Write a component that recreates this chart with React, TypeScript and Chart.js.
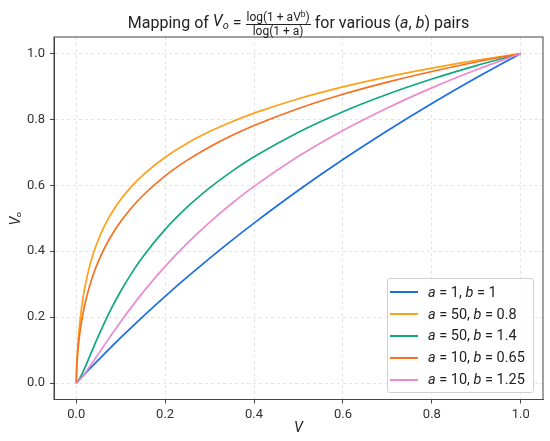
import React, { useEffect, useRef } from "react";
import { Chart, registerables } from "chart.js";

Chart.register(...registerables);

const V = [0, 0.001, 0.003, 0.006, 0.01, 0.015, 0.02, 0.03, 0.04, 0.05, 0.065, 0.08, 0.1, 0.125, 0.15, 0.2, 0.25, 0.3, 0.35, 0.4, 0.5, 0.6, 0.7, 0.8, 0.9, 1.0];

const curveA1B1 = [0, 0.0014, 0.0043, 0.0086, 0.0144, 0.0215, 0.0286, 0.0426, 0.0566, 0.0704, 0.0909, 0.111, 0.1375, 0.1699, 0.2016, 0.263, 0.3219, 0.3785, 0.433, 0.4854, 0.585, 0.6781, 0.7655, 0.848, 0.926, 1.0];
const curveA50B08 = [0, 0.0462, 0.0996, 0.1543, 0.2069, 0.2561, 0.2948, 0.3542, 0.3993, 0.4359, 0.4805, 0.5168, 0.5567, 0.5974, 0.6312, 0.6853, 0.7279, 0.763, 0.7929, 0.8189, 0.8626, 0.8986, 0.9291, 0.9556, 0.979, 1.0];
const curveA50B14 = [0, 0.0008, 0.0037, 0.0097, 0.0194, 0.0333, 0.0483, 0.0799, 0.1118, 0.143, 0.1874, 0.2286, 0.2786, 0.3342, 0.3832, 0.4662, 0.5345, 0.5923, 0.6424, 0.6864, 0.7612, 0.8233, 0.8762, 0.9224, 0.9633, 1.0];
const curveA10B065 = [0, 0.0444, 0.086, 0.1281, 0.1694, 0.2094, 0.242, 0.294, 0.3352, 0.3697, 0.413, 0.4492, 0.4901, 0.5328, 0.569, 0.6285, 0.6763, 0.7164, 0.751, 0.7814, 0.8332, 0.8762, 0.9131, 0.9454, 0.9741, 1.0];
const curveA10B125 = [0, 0.0007, 0.0029, 0.0069, 0.013, 0.0213, 0.0302, 0.0491, 0.0686, 0.0885, 0.1184, 0.1479, 0.1861, 0.2318, 0.275, 0.3541, 0.4246, 0.4877, 0.5447, 0.5966, 0.6879, 0.7663, 0.8348, 0.8957, 0.9504, 1.0];

const seriesLabels = ["a = 1, b = 1", "a = 50, b = 0.8", "a = 50, b = 1.4", "a = 10, b = 0.65", "a = 10, b = 1.25"];
const seriesValues = [curveA1B1, curveA50B08, curveA50B14, curveA10B065, curveA10B125];
const seriesColors = ["#1b6de0", "#ffa01a", "#10a880", "#f7701f", "#ec8ad0"];

const xTicks = [0, 0.2, 0.4, 0.6, 0.8, 1.0];
const yTicks = [0, 0.2, 0.4, 0.6, 0.8, 1.0];

const FONT = "Roboto, 'Noto Sans', sans-serif";

const framePlugin = {
  id: "frame",
  afterDatasetsDraw(chart: any) {
    const { ctx, chartArea } = chart;
    ctx.save();
    ctx.strokeStyle = "#444";
    ctx.lineWidth = 1;
    ctx.strokeRect(chartArea.left, chartArea.top, chartArea.right - chartArea.left, chartArea.bottom - chartArea.top);
    ctx.restore();
  },
};

function MathLabel({ text }: { text: string }) {
  const parts = text.split(/([ab])/);
  return (
    <>
      {parts.map((p, i) =>
        p === "a" || p === "b" ? <i key={i}>{p}</i> : <span key={i} style={{ whiteSpace: "pre" }}>{p}</span>
      )}
    </>
  );
}

export default function App() {
  const canvasRef = useRef<HTMLCanvasElement | null>(null);

  useEffect(() => {
    if (!canvasRef.current) return;
    const datasets = seriesValues.map((vals, i) => ({
      label: seriesLabels[i],
      data: V.map((x, j) => ({ x, y: vals[j] })),
      borderColor: seriesColors[i],
      backgroundColor: seriesColors[i],
      borderWidth: 1.7,
      pointRadius: 0,
      fill: false,
      cubicInterpolationMode: "monotone" as const,
      order: seriesValues.length - 1 - i,
    }));
    const gridCommon = {
      color: "#dcdcdc",
      lineWidth: 0.8,
      tickLength: 4,
      tickColor: "#444",
      tickWidth: 1,
      tickBorderDash: [],
    };
    const chart = new Chart(canvasRef.current, {
      type: "line",
      data: { datasets },
      plugins: [framePlugin],
      options: {
        animation: false,
        responsive: false,
        maintainAspectRatio: false,
        devicePixelRatio: window.devicePixelRatio || 1,
        layout: { padding: { top: 37, right: 7, left: 0, bottom: 0 } },
        plugins: {
          legend: { display: false },
          title: { display: false },
          tooltip: { enabled: false },
        },
        scales: {
          x: {
            type: "linear",
            min: -0.05,
            max: 1.05,
            afterBuildTicks: (scale: any) => {
              scale.ticks = xTicks.map((v) => ({ value: v }));
            },
            afterFit: (scale: any) => {
              scale.height = 41.5;
            },
            ticks: {
              callback: (v: any) => Number(v).toFixed(1),
              font: { family: FONT, size: 13 },
              color: "#333",
              padding: 3,
              maxRotation: 0,
            },
            grid: gridCommon,
            border: { display: true, color: "#444", width: 1, dash: [3, 3] },
            title: {
              display: true,
              text: "V",
              font: { family: FONT, size: 14.5, style: "italic" },
              color: "#222",
              padding: { top: 0, bottom: 4 },
            },
          },
          y: {
            type: "linear",
            min: -0.05,
            max: 1.05,
            afterBuildTicks: (scale: any) => {
              scale.ticks = yTicks.map((v) => ({ value: v }));
            },
            afterFit: (scale: any) => {
              scale.width = 54;
            },
            ticks: {
              callback: (v: any) => Number(v).toFixed(1),
              font: { family: FONT, size: 13 },
              color: "#333",
              padding: 5,
            },
            grid: gridCommon,
            border: { display: true, color: "#444", width: 1, dash: [3, 3] },
            title: {
              display: true,
              text: "Vₒ",
              font: { family: FONT, size: 14.5, style: "italic" },
              color: "#222",
              padding: { top: 8, bottom: 0 },
            },
          },
        },
      },
    } as any);
    return () => chart.destroy();
  }, []);

  return (
    <div style={{ position: "fixed", left: 0, top: 0, width: 550, height: 441, background: "#fff", fontFamily: FONT }}>
      <canvas ref={canvasRef} width={550} height={441} style={{ position: "absolute", left: 0, top: 0, width: 550, height: 441 }} />
      <div
        style={{
          position: "absolute",
          left: 54,
          width: 489,
          top: 8,
          display: "flex",
          justifyContent: "center",
          alignItems: "center",
          fontSize: 16,
          lineHeight: "20px",
          color: "#222",
          whiteSpace: "pre",
        }}
      >
        <span>Mapping of </span>
        <span>
          <i>V</i>
          <sub style={{ fontSize: 11, fontStyle: "italic", verticalAlign: "-3px" }}>o</sub>
        </span>
        <span>{" = "}</span>
        <span style={{ display: "inline-flex", flexDirection: "column", alignItems: "center", fontSize: 12, lineHeight: "13px" }}>
          <span style={{ padding: "0 1px" }}>
            log(1 + aV<sup style={{ fontSize: 8.5, verticalAlign: "4px" }}>b</sup>)
          </span>
          <span style={{ borderTop: "1px solid #222", padding: "0 1px", alignSelf: "stretch", textAlign: "center" }}>log(1 + a)</span>
        </span>
        <span> for various (</span>
        <i>a</i>
        <span>, </span>
        <i>b</i>
        <span>) pairs</span>
      </div>
      <div
        style={{
          position: "absolute",
          left: 387,
          top: 278,
          width: 147,
          height: 115,
          boxSizing: "border-box",
          border: "1px solid #d0d0d0",
          borderRadius: 3,
          background: "rgba(255,255,255,0.8)",
          paddingTop: 2.5,
          fontSize: 14.5,
          color: "#222",
        }}
      >
        {seriesLabels.map((lab, i) => (
          <div key={i} style={{ display: "flex", alignItems: "center", height: 21.8 }}>
            <span style={{ display: "inline-block", marginLeft: 2, width: 28, height: 2, background: seriesColors[i] }} />
            <span style={{ marginLeft: 10, whiteSpace: "pre" }}>
              <MathLabel text={lab} />
            </span>
          </div>
        ))}
      </div>
    </div>
  );
}
